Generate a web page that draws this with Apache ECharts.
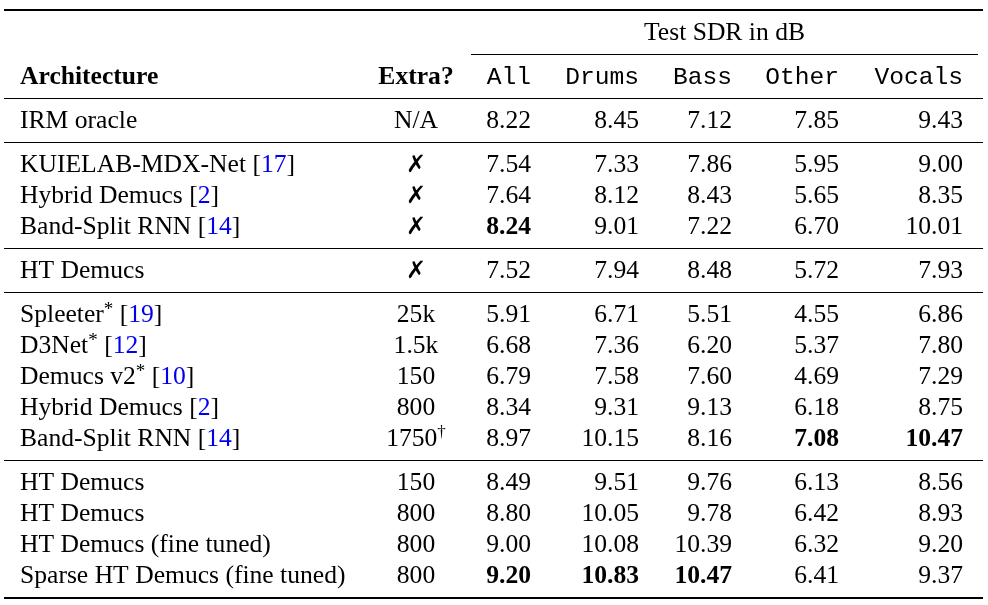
<!DOCTYPE html>
<html lang="en" style="height: 100%">
  <head>
    <meta charset="utf-8" />
  </head>
  <body style="height: 100%; margin: 0; background: #fff">
    <div id="container" style="width: 988px; height: 605px"></div>

    <script src="https://cdn.jsdelivr.net/npm/echarts@6/dist/echarts.min.js"></script>

    <script type="text/javascript">
      // table data
      var architectures = [
        "IRM oracle", "KUIELAB-MDX-Net", "Hybrid Demucs", "Band-Split RNN",
        "HT Demucs", "Spleeter*", "D3Net*", "Demucs v2*", "Hybrid Demucs",
        "Band-Split RNN", "HT Demucs", "HT Demucs", "HT Demucs (fine tuned)",
        "Sparse HT Demucs (fine tuned)"
      ];
      var citations = [null, 17, 2, 14, null, 19, 12, 10, 2, 14, null, null, null, null];
      var extraData = ["N/A", "✗", "✗", "✗", "✗", "25k", "1.5k", "150", "800", "1750†", "150", "800", "800", "800"];
      var sdrAll    = [8.22, 7.54, 7.64, 8.24, 7.52, 5.91, 6.68, 6.79, 8.34, 8.97, 8.49, 8.80, 9.00, 9.20];
      var sdrDrums  = [8.45, 7.33, 8.12, 9.01, 7.94, 6.71, 7.36, 7.58, 9.31, 10.15, 9.51, 10.05, 10.08, 10.83];
      var sdrBass   = [7.12, 7.86, 8.43, 7.22, 8.48, 5.51, 6.20, 7.60, 9.13, 8.16, 9.76, 9.78, 10.39, 10.47];
      var sdrOther  = [7.85, 5.95, 5.65, 6.70, 5.72, 4.55, 5.37, 4.69, 6.18, 7.08, 6.13, 6.42, 6.32, 6.41];
      var sdrVocals = [9.43, 9.00, 8.35, 10.01, 7.93, 6.86, 7.80, 7.29, 8.75, 10.47, 8.56, 8.93, 9.20, 9.37];
      var groupSizes = [1, 3, 1, 5, 4];
      var boldCells = [[3, "all"], [13, "all"], [13, "drums"], [13, "bass"], [9, "other"], [9, "vocals"]];
      var spanTitle = "Test SDR in dB";
      var headArch = "Architecture";
      var headExtra = "Extra?";
      var sourceNames = ["All", "Drums", "Bass", "Other", "Vocals"];
      var sourceKeys = ["all", "drums", "bass", "other", "vocals"];
      var sourceValues = [sdrAll, sdrDrums, sdrBass, sdrOther, sdrVocals];

      // layout (pixel units on hidden value axes)
      var W = 988, H = 605;
      var colArch = 20, colExtra = 416;
      var colRight = { all: 531, drums: 639, bass: 732, other: 839, vocals: 963 };
      var ySpan = 32, yHead = 76, yFirst = 120, rowStep = 31, groupStep = 44;
      var textShift = 1.5;
      var ruleLeft = 4, ruleRight = 983, spanLeft = 471, spanRight = 978;

      var SERIF = "'Liberation Serif', 'Times New Roman', serif";
      var MONO = "'Liberation Mono', 'Courier New', monospace";
      var FS = 25.6;

      var rowY = [];
      var ruleRows = [];
      var yy = yFirst;
      groupSizes.forEach(function (n, g) {
        for (var i = 0; i < n; i++) {
          rowY.push(yy);
          if (i < n - 1) yy += rowStep;
        }
        if (g < groupSizes.length - 1) {
          ruleRows.push(yy + groupStep / 2);
          yy += groupStep;
        }
      });

      var rich = {
        c: { fontFamily: SERIF, fontSize: FS, fill: "#0000ee", lineHeight: 30 },
        x: { fontFamily: "'DejaVu Sans', sans-serif", fontSize: 24, fontWeight: "bold", fill: "#000", lineHeight: 30 },
        st: { fontFamily: SERIF, fontSize: 19, fill: "#000", lineHeight: 22, verticalAlign: "top" },
        sup: { fontFamily: SERIF, fontSize: 17, fill: "#000", lineHeight: 17, verticalAlign: "top" },
        n: { fontFamily: SERIF, fontSize: FS, fill: "#000", lineHeight: 30 }
      };

      function isBold(r, key) {
        return boldCells.some(function (b) { return b[0] === r && b[1] === key; });
      }

      // text cells
      var cells = [];
      cells.push({ x: (spanLeft + spanRight) / 2, y: ySpan, text: spanTitle, align: "center", font: FS + "px " + SERIF });
      cells.push({ x: colArch, y: yHead, text: headArch, align: "left", font: "bold " + FS + "px " + SERIF });
      cells.push({ x: colExtra, y: yHead, text: headExtra, align: "center", font: "bold " + FS + "px " + SERIF });
      sourceNames.forEach(function (s, i) {
        cells.push({ x: colRight[sourceKeys[i]], y: yHead, text: s, align: "right", font: "24.6px " + MONO });
      });
      architectures.forEach(function (name, r) {
        var t = "{n|" + name.replace("*", "") + "}";
        if (name.indexOf("*") >= 0) t += "{st|*}";
        if (citations[r] !== null) t += "{n| [}{c|" + citations[r] + "}{n|]}";
        cells.push({ x: colArch, y: rowY[r], text: t, align: "left", font: FS + "px " + SERIF, rich: true });
        var e = extraData[r];
        var et;
        if (e === "✗") et = "{x|✗}";
        else if (e.indexOf("†") >= 0) et = "{n|" + e.replace("†", "") + "}{sup|†}";
        else et = "{n|" + e + "}";
        cells.push({ x: colExtra, y: rowY[r], text: et, align: "center", font: FS + "px " + SERIF, rich: true });
        sourceKeys.forEach(function (k, i) {
          cells.push({
            x: colRight[k], y: rowY[r], text: sourceValues[i][r].toFixed(2), align: "right",
            font: (isBold(r, k) ? "bold " : "") + FS + "px " + SERIF
          });
        });
      });

      // horizontal rules: [x1, x2, y, width]
      var rules = [[ruleLeft, ruleRight, 10, 2], [spanLeft, spanRight, 54.5, 1.2], [ruleLeft, ruleRight, 98.5, 1.2]];
      ruleRows.forEach(function (y) { rules.push([ruleLeft, ruleRight, y + 0.5, 1.2]); });
      rules.push([ruleLeft, ruleRight, 598, 2]);

      var dom = document.getElementById("container");
      var myChart = echarts.init(dom, null, { renderer: "canvas" });

      var option = {
        backgroundColor: "#fff",
        animation: false,
        grid: { left: 0, right: 0, top: 0, bottom: 0 },
        xAxis: { type: "value", min: 0, max: W, show: false },
        yAxis: { type: "value", min: 0, max: H, inverse: true, show: false },
        series: [
          {
            type: "custom",
            data: rules,
            renderItem: function (params, api) {
              var p1 = api.coord([api.value(0), api.value(2)]);
              var p2 = api.coord([api.value(1), api.value(2)]);
              return {
                type: "line",
                shape: { x1: p1[0], y1: p1[1], x2: p2[0], y2: p2[1] },
                style: { stroke: "#000", lineWidth: api.value(3) }
              };
            }
          },
          {
            type: "custom",
            data: cells.map(function (c) { return [c.x, c.y + textShift]; }),
            renderItem: function (params, api) {
              var c = cells[params.dataIndex];
              var p = api.coord([api.value(0), api.value(1)]);
              var style = {
                text: c.text,
                font: c.font,
                fill: "#000",
                align: c.align,
                verticalAlign: "middle"
              };
              if (c.rich) style.rich = rich;
              return { type: "text", x: p[0], y: p[1], style: style };
            }
          }
        ]
      };

      myChart.setOption(option);
      window.addEventListener("resize", myChart.resize);
    </script>
  </body>
</html>
